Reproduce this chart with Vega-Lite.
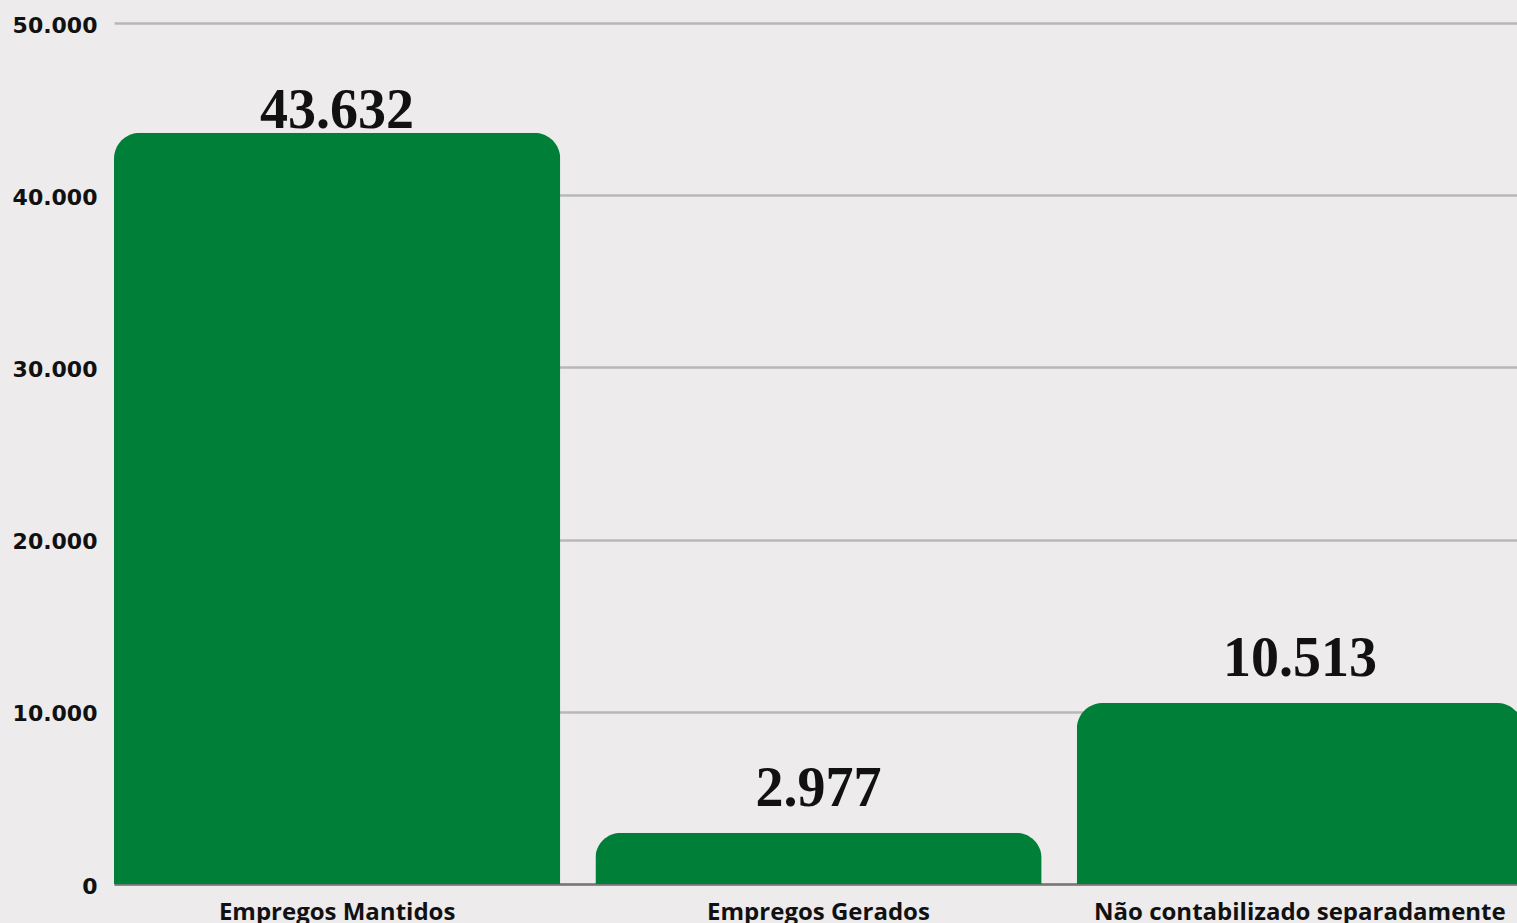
{
  "$schema": "https://vega.github.io/schema/vega-lite/v6.json",
  "width": 1409,
  "height": 861,
  "autosize": {"type": "none"},
  "padding": {"left": 114, "top": 23, "right": 0, "bottom": 39},
  "background": "#edebec",
  "config": {
    "view": {"stroke": null},
    "locale": {"number": {"decimal": ",", "thousands": ".", "grouping": [3], "currency": ["R$", ""]}}
  },
  "data": {"values": [
    {"categoria": "Empregos Mantidos", "valor": 43632},
    {"categoria": "Empregos Gerados", "valor": 2977},
    {"categoria": "Não contabilizado separadamente", "valor": 10513}
  ]},
  "encoding": {
    "x": {"field": "categoria", "type": "nominal", "sort": null,
      "scale": {"paddingInner": 0.073, "paddingOuter": 0},
      "axis": {"title": null, "labelAngle": 0, "labelFont": "Open Sans", "labelFontWeight": "bold", "labelFontSize": 24, "labelColor": "#111", "labelPadding": 16, "ticks": false, "domainColor": "#777", "domainWidth": 2.5, "labelLimit": 0}},
    "y": {"field": "valor", "type": "quantitative",
      "scale": {"domain": [0, 50000]},
      "axis": {"title": null, "values": [0, 10000, 20000, 30000, 40000, 50000], "format": ",d", "labelOverlap": false, "labelOffset": 2, "labelFont": "DejaVu Sans", "labelFontWeight": "bold", "labelFontSize": 22, "labelColor": "#111", "labelPadding": 17, "ticks": false, "domain": false, "gridColor": "#b8b8b8", "gridWidth": 2.5}}
  },
  "layer": [
    {"mark": {"type": "bar", "color": "#007f38", "cornerRadiusTopLeft": 26, "cornerRadiusTopRight": 26}},
    {"transform": [{"filter": "datum.valor < 40000"}],
     "mark": {"type": "text", "baseline": "alphabetic", "dy": -27, "font": "Liberation Serif", "fontWeight": "bold", "fontSize": 56, "color": "#111"},
     "encoding": {"text": {"field": "valor", "type": "quantitative", "format": ",d"}}},
    {"transform": [{"filter": "datum.valor >= 40000"}],
     "mark": {"type": "text", "baseline": "alphabetic", "dy": -5, "font": "Liberation Serif", "fontWeight": "bold", "fontSize": 56, "color": "#111"},
     "encoding": {"text": {"field": "valor", "type": "quantitative", "format": ",d"}}}
  ]
}
